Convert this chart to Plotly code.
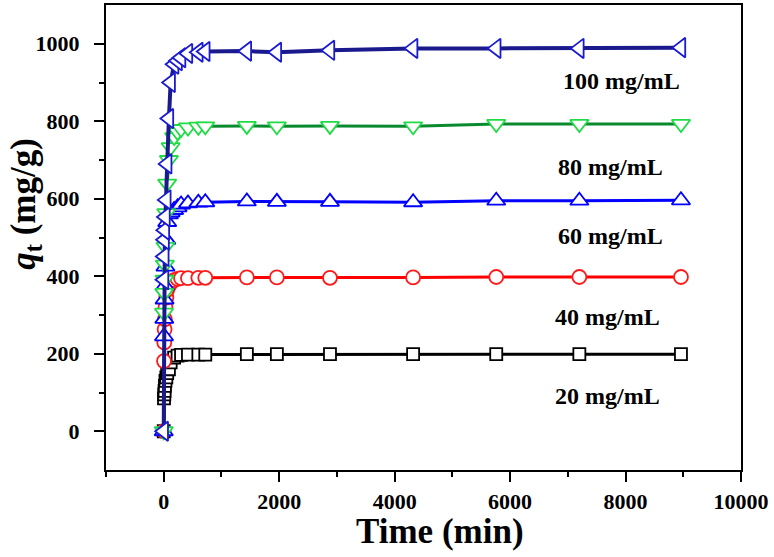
import plotly.graph_objects as go

# Time (min)
time_min = [0, 5, 10, 15, 20, 30, 45, 60, 90, 120, 180, 240, 300, 420, 600, 720,
            1440, 1960, 2880, 4320, 5760, 7200, 8960]

# q_t (mg/g) for each initial concentration
q_20 = [0, 85, 95, 104, 117, 130, 139, 150, 160, 178, 190, 195, 197, 198, 198, 198,
        199, 199, 199, 199, 199, 199, 199]
q_40 = [0, 181, 229, 263, 289, 320, 345, 365, 375, 383, 390, 393, 395, 395, 396, 396,
        397, 397, 396, 397, 398, 398, 398]
q_60 = [0, 245, 290, 340, 375, 425, 494, 540, 560, 565, 571, 578, 585, 588, 590, 591,
        593, 592, 592, 591, 595, 595, 596]
q_80 = [0, 306, 357, 391, 430, 476, 563, 639, 700, 733, 759, 772, 780, 784, 786, 787,
        788, 787, 788, 787, 793, 793, 793]
q_100 = [0, 391, 451, 494, 519, 553, 597, 690, 807, 900, 947, 956, 964, 975, 978, 980,
         981, 978, 983, 988, 988, 988, 990]

labels = ["20 mg/mL", "40 mg/mL", "60 mg/mL", "80 mg/mL", "100 mg/mL"]
label_x = [7680, 7680, 7740, 7740, 7930]
label_y = [90, 294, 505, 682, 904]

x_ticks = [0, 2000, 4000, 6000, 8000, 10000]
x_ticktext = ["0", "2000", "4000", "6000", "8000", "10000"]
y_ticks = [0, 200, 400, 600, 800, 1000]

series = [
    (q_20, "square", 12, "#000000", "#000000", 3),
    (q_40, "circle", 14, "#FF0000", "#FF1A1A", 3),
    (q_60, "triangle-up", 16, "#0000FF", "#0000FF", 3),
    (q_80, "triangle-down", 16, "#0A8A2E", "#1FDC45", 3),
    (q_100, "triangle-left", 17, "#1A1A8C", "#1A1AD0", 4),
]

fig = go.Figure()
for (vals, sym, size, lc, mc, lw), name in zip(series, labels):
    fig.add_trace(go.Scatter(
        x=time_min, y=vals, mode="lines+markers", name=name,
        line=dict(color=lc, width=lw),
        marker=dict(symbol=sym, size=size, color="white",
                    line=dict(color=mc, width=1.8)),
        showlegend=False,
    ))

font_family = "Liberation Serif, Times New Roman, serif"

for txt, lx, ly in zip(labels, label_x, label_y):
    fig.add_annotation(x=lx, y=ly, text=txt, showarrow=False, xanchor="center",
                       yanchor="middle",
                       font=dict(family=font_family, size=24, color="black", weight="bold"))

fig.add_annotation(xref="paper", yref="paper", x=0.5255, y=-0.132,
                   text="Time (min)", showarrow=False, xanchor="center", yanchor="middle",
                   font=dict(family=font_family, size=35, color="black", weight="bold"))
fig.add_annotation(xref="paper", yref="paper", x=-0.128, y=0.572,
                   text="<i>q</i><sub>t</sub> (mg/g)", textangle=-90, showarrow=False,
                   xanchor="center", yanchor="middle",
                   font=dict(family=font_family, size=35, color="black", weight="bold"))

fig.update_xaxes(
    range=[-1000, 10000], tickmode="array", tickvals=x_ticks, ticktext=x_ticktext,
    ticks="outside", ticklen=10, tickwidth=2, tickcolor="black",
    minor=dict(tickmode="array", tickvals=[-1000, 1000, 3000, 5000, 7000, 9000],
               ticks="outside", ticklen=5, tickwidth=2, tickcolor="black"),
    showline=True, linewidth=2, linecolor="black", mirror=True,
    showgrid=False, zeroline=False, ticklabelstandoff=1,
    tickfont=dict(family=font_family, size=22, color="black", weight="bold"),
)
fig.update_yaxes(
    range=[-100, 1100], tickmode="array", tickvals=y_ticks,
    ticks="outside", ticklen=10, tickwidth=2, tickcolor="black",
    minor=dict(tickmode="array", tickvals=[100, 300, 500, 700, 900],
               ticks="outside", ticklen=5, tickwidth=2, tickcolor="black"),
    showline=True, linewidth=2, linecolor="black", mirror=True,
    showgrid=False, zeroline=False, ticklabelstandoff=10,
    tickfont=dict(family=font_family, size=22, color="black", weight="bold"),
)

fig.update_layout(
    width=774, height=557,
    margin=dict(l=106, r=33, t=3, b=87),
    plot_bgcolor="white", paper_bgcolor="white",
)

fig.write_html("out.html", config={"displayModeBar": False},
               post_script="document.body.style.margin='0';document.body.style.padding='0';")
